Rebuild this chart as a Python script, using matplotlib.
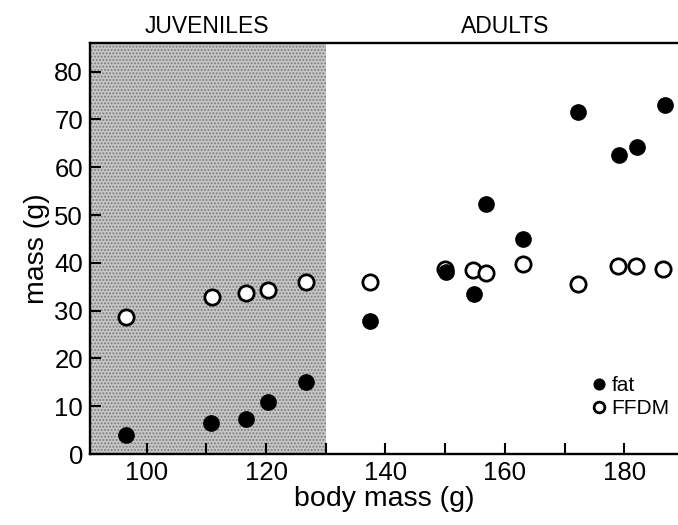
import matplotlib
matplotlib.use("Agg")
import matplotlib.pyplot as plt
from matplotlib.ticker import MultipleLocator

plt.rcParams['font.family'] = ['Liberation Sans', 'DejaVu Sans']
plt.rcParams['hatch.linewidth'] = 0.9

# data
body_mass_fat = [96.5, 110.7, 116.7, 120.3, 126.6, 137.4, 150.1, 154.8, 156.9, 163.1, 172.3, 179.1, 182.2, 186.8]
fat = [4.0, 6.4, 7.3, 10.9, 15.0, 27.8, 38.1, 33.4, 52.3, 44.9, 71.5, 62.6, 64.2, 73.0]
body_mass_ffdm = [96.5, 111.0, 116.7, 120.4, 126.7, 137.4, 150.0, 154.7, 156.9, 163.0, 172.2, 178.9, 182.0, 186.5]
ffdm = [28.7, 32.9, 33.7, 34.4, 36.0, 35.9, 38.7, 38.5, 37.8, 39.7, 35.5, 39.4, 39.4, 38.7]
juvenile_limit = 130
group_labels = ["JUVENILES", "ADULTS"]
group_centers = [110, 160]

fig = plt.figure(figsize=(6.78, 5.25), dpi=100)
ax = fig.add_axes([90/678, 1-454/525, 588/678, 411/525])
xmin, xmax = 90.5, 189.0
ax.set_xlim(xmin, xmax)
ax.set_ylim(0, 86.0)

ax.axvspan(xmin, juvenile_limit, facecolor='#c6c6c6', edgecolor='#7a7a7a',
           hatch='.....', linewidth=0, zorder=0)

ax.plot(body_mass_ffdm, ffdm, linestyle='none', marker='o', markersize=11,
        markerfacecolor='white', markeredgecolor='black', markeredgewidth=2.0,
        label='FFDM', zorder=2)
ax.plot(body_mass_fat, fat, linestyle='none', marker='o', markersize=11,
        markerfacecolor='black', markeredgecolor='black', markeredgewidth=1.0,
        label='fat', zorder=3)

handles, labels = ax.get_legend_handles_labels()
leg = ax.legend(handles[::-1], labels[::-1], loc='upper left',
                bbox_to_anchor=(0.855, 0.19), frameon=False, markerscale=0.7,
                handlelength=0.6, handletextpad=0.3, labelspacing=0.2,
                borderpad=0, borderaxespad=0, fontsize=15)

ax.xaxis.set_major_locator(MultipleLocator(20))
ax.xaxis.set_minor_locator(MultipleLocator(10))
ax.yaxis.set_major_locator(MultipleLocator(10))
ax.tick_params(axis='both', which='both', direction='in', width=1.5,
               labelsize=18.5, top=False, right=False)
ax.tick_params(axis='x', which='major', length=8, pad=5)
ax.tick_params(axis='x', which='minor', length=8)
ax.tick_params(axis='y', which='major', length=8, pad=5)

for s in ['left', 'bottom', 'top']:
    ax.spines[s].set_linewidth(1.7)
ax.spines['right'].set_visible(False)

ax.set_xlabel('body mass (g)', fontsize=20.5, labelpad=1)
ax.set_ylabel('mass (g)', fontsize=20.5, labelpad=3)

for lab, cx in zip(group_labels, group_centers):
    ax.text(cx, 1.012, lab, transform=ax.get_xaxis_transform(), ha='center',
            va='bottom', fontsize=16.5)

fig.savefig('out.png', dpi=100)
